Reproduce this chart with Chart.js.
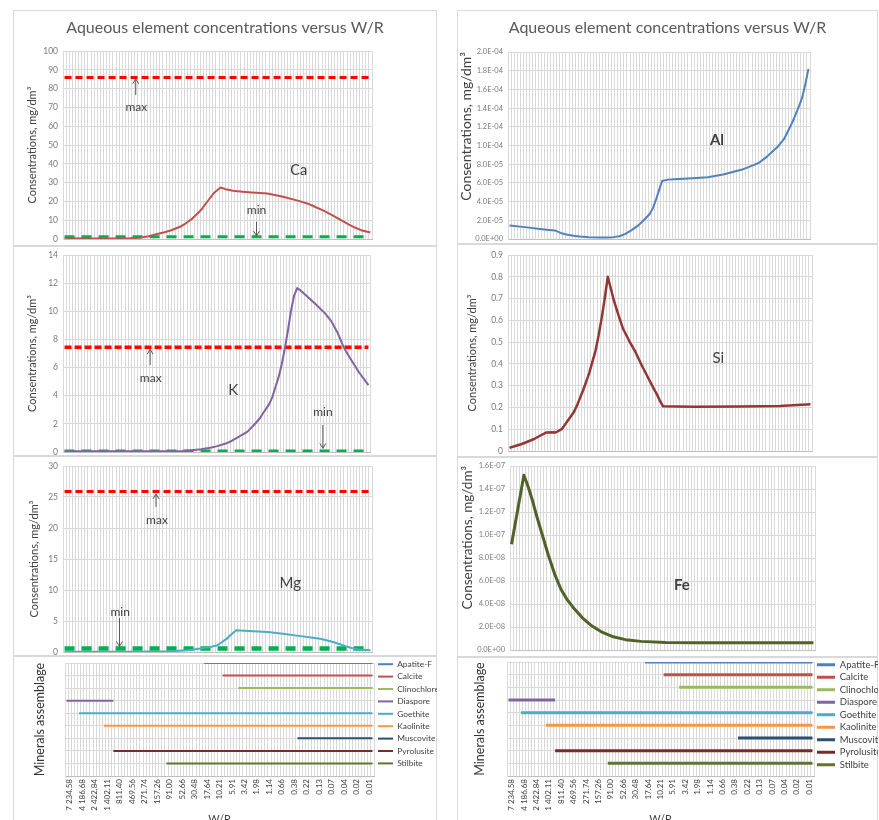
<!DOCTYPE html>
<html>
<head>
<meta charset="utf-8">
<script src="https://cdn.jsdelivr.net/npm/chart.js@4.4.1/dist/chart.umd.min.js"></script>
<style>
  html, body { margin: 0; padding: 0; background: #fff; }
  body { width: 879px; height: 820px; position: relative; overflow: hidden; }
  .panel { position: absolute; outline: 1px solid #d9d9d9; outline-offset: -1px; }
  .panel canvas { position: absolute; left: 0; top: 0; }
</style>
</head>
<body>
<div class="panel" style="left:13px;top:10px;width:424px;height:236px"><canvas id="ca" width="424" height="236"></canvas></div>
<div class="panel" style="left:13px;top:246px;width:424px;height:210px"><canvas id="k" width="424" height="210"></canvas></div>
<div class="panel" style="left:13px;top:456px;width:424px;height:200px"><canvas id="mg" width="424" height="200"></canvas></div>
<div class="panel" style="left:13px;top:656px;width:424px;height:170px"><canvas id="minL" width="424" height="170"></canvas></div>
<div class="panel" style="left:457px;top:10px;width:421px;height:234px"><canvas id="al" width="421" height="234"></canvas></div>
<div class="panel" style="left:457px;top:244px;width:421px;height:213px"><canvas id="si" width="421" height="213"></canvas></div>
<div class="panel" style="left:457px;top:457px;width:421px;height:200px"><canvas id="fe" width="421" height="200"></canvas></div>
<div class="panel" style="left:457px;top:657px;width:421px;height:169px"><canvas id="minR" width="421" height="169"></canvas></div>
<script>
// W/R categories: 99 steps, every 4th one labelled
const N_CAT = 99;
const firstLabelCat = 1;
const labelStep = 4;
const wrLabels = ['7 234.58', '4 186.68', '2 422.84', '1 402.11', '811.40', '469.56', '271.74', '157.26',
  '91.00', '52.66', '30.48', '17.64', '10.21', '5.91', '3.42', '1.98', '1.14', '0.66', '0.38', '0.22',
  '0.13', '0.07', '0.04', '0.02', '0.01'];

// [category index, concentration mg/dm3]
const caSeries = [[0, 0.4], [8, 0.3], [16, 0.3], [21, 0.4], [24, 0.7], [27, 1.5], [30, 2.8], [32, 3.6],
  [34, 4.5], [37, 6.5], [39, 8.5], [41, 11], [43, 14.2], [44, 16], [46, 20.5], [48, 24.8], [50, 27.4],
  [52, 26.3], [54, 25.7], [57, 25.2], [60, 24.8], [65, 24.2], [70, 22.5], [75, 20.3], [78, 18.8], [80, 17.3],
  [83, 15.1], [86, 12.4], [89, 9.6], [91, 7.8], [93, 6.1], [95, 4.7], [98, 3.5]];
const caMax = 86;
const caMin = 1.2;

const kSeries = [[0, 0.05], [20, 0.05], [38, 0.07], [41, 0.12], [44, 0.2], [47, 0.3], [49, 0.4], [52, 0.6],
  [54, 0.8], [56, 1.05], [59, 1.45], [61, 1.9], [63, 2.4], [64, 2.75], [66, 3.4], [67, 3.9], [68, 4.6],
  [69, 5.3], [70, 6.2], [71, 7.3], [72, 8.6], [73, 10], [74, 11.1], [75, 11.65], [76, 11.5], [78, 11.1],
  [81, 10.5], [84, 9.85], [86, 9.3], [88, 8.5], [90, 7.45], [92, 6.7], [95, 5.65], [98, 4.75]];
const kMax = 7.45;
const kMin = 0.07;

const mgSeries = [[0, 0.05], [20, 0.05], [34, 0.12], [38, 0.25], [41, 0.38], [45, 0.7], [47, 0.85], [49, 1.1],
  [50, 1.45], [52, 2.15], [53, 2.65], [55, 3.5], [59, 3.4], [65, 3.23], [70, 2.96], [75, 2.6], [79, 2.35],
  [82, 2.15], [86, 1.6], [88, 1.3], [90, 0.95], [92, 0.65], [94, 0.4], [98, 0.27]];
const mgMax = 25.9;
const mgMin = 0.55;

const alSeries = [[0, 1.45e-5], [5, 1.27e-5], [10, 1.07e-5], [13, 0.97e-5], [15, 0.9e-5], [17, 0.62e-5],
  [19, 0.45e-5], [21, 0.34e-5], [23, 0.27e-5], [26, 0.2e-5], [30, 0.16e-5], [32, 0.15e-5], [34, 0.2e-5],
  [36, 0.3e-5], [38, 0.55e-5], [40, 0.95e-5], [42, 1.4e-5], [44, 2.0e-5], [46, 2.7e-5], [47, 3.3e-5],
  [48, 4.2e-5], [49, 5.2e-5], [50, 6.2e-5], [52, 6.35e-5], [54, 6.4e-5], [60, 6.5e-5], [65, 6.6e-5],
  [70, 6.9e-5], [76, 7.4e-5], [80, 7.9e-5], [82, 8.2e-5], [84, 8.7e-5], [86, 9.3e-5], [88, 9.9e-5],
  [90, 10.7e-5], [92, 12.0e-5], [93, 12.7e-5], [94, 13.5e-5], [95, 14.3e-5], [96, 15.2e-5], [97, 16.6e-5],
  [98, 18.2e-5]];

const siSeries = [[0, 0.015], [4, 0.032], [8, 0.055], [11, 0.078], [12, 0.085], [14, 0.086], [15, 0.085],
  [17, 0.1], [18, 0.12], [19, 0.14], [20, 0.16], [21, 0.18], [22, 0.21], [23, 0.245], [24, 0.28], [25, 0.32],
  [26, 0.36], [27, 0.41], [28, 0.46], [29, 0.53], [30, 0.61], [31, 0.7], [32, 0.8], [33, 0.745], [34, 0.69],
  [35, 0.645], [37, 0.56], [39, 0.505], [41, 0.455], [43, 0.395], [45, 0.34], [47, 0.285], [48, 0.26],
  [49, 0.23], [50, 0.205], [60, 0.203], [75, 0.204], [88, 0.207], [98, 0.215]];

const feSeries = [[0, 9.2e-8], [4, 1.52e-7], [5, 1.45e-7], [6, 1.37e-7], [7, 1.28e-7], [8, 1.18e-7],
  [10, 1.0e-7], [12, 8.2e-8], [14, 6.6e-8], [16, 5.3e-8], [18, 4.4e-8], [20, 3.7e-8], [23, 2.8e-8],
  [26, 2.1e-8], [29, 1.6e-8], [33, 1.15e-8], [37, 9.0e-9], [42, 7.5e-9], [50, 6.6e-9], [60, 6.4e-9],
  [80, 6.4e-9], [98, 6.4e-9]];

// mineral assemblage: first and last W/R category where the mineral is present
const minerals = ['Apatite-F', 'Calcite', 'Clinochlore', 'Diaspore', 'Goethite', 'Kaolinite', 'Muscovite', 'Pyrolusite', 'Stilbite'];
const mineralFrom = [44, 50, 55, 0, 4, 12, 74, 15, 32];
const mineralTo = [98, 98, 98, 15, 98, 98, 98, 98, 98];

const mineralColors = ['#4f81bd', '#c0504d', '#9bbb59', '#8064a2', '#4bacc6', '#f79646', '#2c4d75', '#772c2a', '#5f7530'];
const GRID = '#d9d9d9';
const TITLE = 'Aqueous element concentrations versus W/R';
const Y_TITLE = 'Consentrations, mg/dm³';

Chart.defaults.font.family = 'Lato, "Open Sans", sans-serif';
Chart.defaults.animation = false;

function pts(series) {
  return series.map(([x, y]) => ({ x: x, y: y }));
}
function flat(v) {
  return [{ x: 0, y: v }, { x: N_CAT - 1, y: v }];
}
function sci(v) {
  if (Math.abs(v) < 1e-30) return '0.0E+00';
  let e = Math.floor(Math.log10(Math.abs(v)) + 1e-9);
  let m = v / Math.pow(10, e);
  if (Math.round(m * 10) / 10 >= 10) { m /= 10; e++; }
  return m.toFixed(1) + 'E' + (e < 0 ? '-' : '+') + String(Math.abs(e)).padStart(2, '0');
}

// fixed axis box sizes so the plot areas line up with the picture
function fixY(w, padTop) {
  return function (scale) {
    scale.width = w;
    scale.paddingTop = padTop || 0;
    scale.paddingBottom = 0;
  };
}
function fixX(h) {
  return function (scale) {
    if (h !== undefined) scale.height = h;
    scale.paddingLeft = 0;
    scale.paddingRight = 0;
  };
}

function xPlain() {
  return {
    type: 'linear', min: -0.5, max: N_CAT - 0.5,
    grid: { color: GRID, drawTicks: false },
    border: { color: '#bfbfbf' },
    ticks: { display: false, stepSize: 1, autoSkip: false },
    afterFit: fixX(0)
  };
}
function xLabelled(font) {
  return {
    type: 'linear', min: -0.5, max: N_CAT - 0.5,
    grid: { color: GRID, drawTicks: false },
    border: { color: '#bfbfbf' },
    ticks: {
      stepSize: 1, autoSkip: false, minRotation: 90, maxRotation: 90, padding: 3, labelOffset: 1.5,
      color: '#404040', font: { size: font },
      callback: (v, i) => {
        const k = i - firstLabelCat;
        return (k >= 0 && k % labelStep === 0 && k / labelStep < wrLabels.length) ? wrLabels[k / labelStep] : '';
      }
    },
    title: { display: true, text: 'W/R', color: '#404040', font: { size: 11 }, padding: 0 },
    afterFit: fixX(50)
  };
}
// box = {left, axis, right}: blank margin left of the axis title, axis width, blank margin right of the plot
function yConc(max, step, box, fmt, tickSize, titleSize, align) {
  return {
    min: 0, max: max,
    grid: { color: GRID, drawTicks: false },
    border: { color: GRID },
    ticks: { stepSize: step, padding: 5, color: '#7a7a7a', font: { size: tickSize }, callback: fmt },
    title: {
      display: true, text: Y_TITLE, color: '#404040', font: { size: titleSize },
      padding: { top: box.left, bottom: 0 }, align: align || 'center'
    },
    afterFit: fixY(box.left + box.axis)
  };
}
function yGap(w) {
  return {
    position: 'right', display: true,
    grid: { display: false }, border: { display: false }, ticks: { display: false },
    afterFit: fixY(w)
  };
}

function notesPlugin(items) {
  return {
    id: 'notes',
    afterDatasetsDraw(chart) {
      const { ctx } = chart;
      const x = chart.scales.x, y = chart.scales.y;
      ctx.save();
      items.forEach(n => {
        const px = x.getPixelForValue(n.x);
        if (n.text) {
          ctx.font = (n.bold ? 'bold ' : '') + (n.size || 12) + 'px Lato, "Open Sans", sans-serif';
          ctx.fillStyle = '#404040';
          ctx.textAlign = 'center';
          ctx.textBaseline = 'middle';
          ctx.fillText(n.text, px, y.getPixelForValue(n.y));
        } else {
          const y0 = y.getPixelForValue(n.from), y1 = y.getPixelForValue(n.to);
          const dir = y1 < y0 ? 1 : -1;
          ctx.strokeStyle = '#595959';
          ctx.lineWidth = 1;
          ctx.beginPath();
          ctx.moveTo(px, y0);
          ctx.lineTo(px, y1);
          ctx.moveTo(px - 3, y1 + dir * 5);
          ctx.lineTo(px, y1);
          ctx.lineTo(px + 3, y1 + dir * 5);
          ctx.stroke();
        }
      });
      ctx.restore();
    }
  };
}

function element(series, color, width) {
  return { data: pts(series), borderColor: color, borderWidth: width, pointRadius: 0, tension: 0, borderJoinStyle: 'round' };
}
function limit(v, color, width, dash) {
  return { data: flat(v), borderColor: color, borderWidth: width, borderDash: dash, pointRadius: 0 };
}

function lineChart(id, datasets, y, box, vpad, notes, withTitle) {
  return new Chart(document.getElementById(id), {
    type: 'line',
    data: { datasets: datasets },
    options: {
      responsive: false, devicePixelRatio: 1,
      layout: { padding: { left: 0, right: 0, top: vpad.top, bottom: vpad.bottom } },
      scales: { x: xPlain(), y: y, gap: yGap(box.right) },
      plugins: {
        legend: { display: false },
        tooltip: { enabled: false },
        title: withTitle
          ? { display: true, text: TITLE, color: '#595959', font: { size: 16, weight: 'normal' }, padding: withTitle }
          : { display: false }
      }
    },
    plugins: [notesPlugin(notes)]
  });
}

function mineralChart(id, lineW, padding, yW, padTop, legend) {
  const datasets = minerals.map((m, i) => ({
    label: m,
    data: [{ x: mineralFrom[i], y: minerals.length - i }, { x: mineralTo[i], y: minerals.length - i }],
    borderColor: mineralColors[i], backgroundColor: mineralColors[i],
    pointBorderColor: mineralColors[i], pointBorderWidth: lineW,
    borderWidth: lineW, pointRadius: 0
  }));
  return new Chart(document.getElementById(id), {
    type: 'line',
    data: { datasets: datasets },
    options: {
      responsive: false, devicePixelRatio: 1,
      layout: { padding: padding },
      scales: {
        x: xLabelled(8),
        y: {
          min: 0, max: minerals.length,
          grid: { color: GRID, drawTicks: false },
          border: { color: GRID },
          ticks: { display: false, stepSize: 1 },
          title: { display: true, text: 'Minerals assemblage', color: '#333', font: { size: 12.5 }, padding: 0 },
          afterFit: fixY(yW, padTop)
        }
      },
      plugins: {
        tooltip: { enabled: false },
        legend: {
          position: 'right', align: 'start', maxWidth: legend.width,
          labels: {
            usePointStyle: true, pointStyle: 'line', pointStyleWidth: legend.box, boxWidth: legend.box,
            padding: legend.pad, color: '#404040', font: { size: legend.font }
          }
        }
      }
    }
  });
}

const fmtPlain = v => String(Number(v.toFixed(1)));
const fmtSci = v => sci(v);

// left column
lineChart('ca', [
  element(caSeries, '#c0504d', 2),
  limit(caMax, '#ff0000', 3, [7, 4]),
  limit(caMin, '#00b050', 3, [10, 7])
], yConc(100, 10, { left: 13, axis: 37, right: 65 }, fmtPlain, 8.5, 11), { left: 13, axis: 37, right: 65 },
  { top: 0, bottom: 7 }, [
  { text: 'max', x: 23, y: 70.4 },
  { x: 22.8, from: 76.6, to: 85.3 },
  { text: 'min', x: 61.5, y: 15.4 },
  { x: 61.5, from: 9.2, to: 1.6 },
  { text: 'Ca', x: 75, y: 36.7, size: 14.5 }
], { top: 8, bottom: 14 });

lineChart('k', [
  element(kSeries, '#8064a2', 2),
  limit(kMax, '#ff0000', 3.5, [7, 3]),
  limit(kMin, '#00b050', 3, [10, 7])
], yConc(14, 2, { left: 13, axis: 37 }, fmtPlain, 8.5, 11), { right: 67 }, { top: 9, bottom: 4 }, [
  { text: 'max', x: 27.8, y: 5.24 },
  { x: 27.6, from: 6.18, to: 7.3 },
  { text: 'K', x: 54.4, y: 4.41, size: 15 },
  { text: 'min', x: 83.3, y: 2.86 },
  { x: 83.3, from: 1.92, to: 0.26 }
]);

lineChart('mg', [
  element(mgSeries, '#4bacc6', 2),
  limit(mgMax, '#ff0000', 3, [7, 4]),
  limit(mgMin, '#00b050', 4.5, [10, 7])
], yConc(30, 5, { left: 15, axis: 35 }, fmtPlain, 8.5, 11), { right: 65 }, { top: 10, bottom: 4 }, [
  { text: 'max', x: 29.6, y: 21.3 },
  { x: 29.3, from: 23.4, to: 25.5 },
  { text: 'Mg', x: 72.3, y: 11.1, size: 15 },
  { text: 'min', x: 17.8, y: 6.45 },
  { x: 17.6, from: 5.5, to: 0.9 }
]);

mineralChart('minL', 2, { left: 19, right: 0, top: 0, bottom: 0 }, 33, 7,
  { width: 63, box: 15, pad: 4, font: 8.4 });

// right column
lineChart('al', [element(alSeries, '#4f81bd', 2)],
  yConc(2e-4, 2e-5, { left: 1, axis: 50 }, fmtSci, 7.5, 14, 'end'), { right: 68 }, { top: 0, bottom: 5 },
  [{ text: 'Al', x: 68, y: 1.06e-4, size: 15, bold: true }], { top: 8, bottom: 14.8 });

lineChart('si', [element(siSeries, '#943634', 2.5)],
  yConc(0.9, 0.1, { left: 9, axis: 42 }, fmtPlain, 8.5, 11), { right: 66 }, { top: 11, bottom: 6 },
  [{ text: 'Si', x: 68, y: 0.427, size: 15 }]);

lineChart('fe', [element(feSeries, '#4f6228', 3)],
  yConc(1.6e-7, 2e-8, { left: 3, axis: 50 }, fmtSci, 7.5, 13.5, 'end'), { right: 63 }, { top: 9, bottom: 7 },
  [{ text: 'Fe', x: 55.3, y: 5.65e-8, size: 15, bold: true }]);

mineralChart('minR', 3, { left: 15, right: 0, top: 0, bottom: 0 }, 35, 5,
  { width: 64, box: 18, pad: 3, font: 9.5 });
</script>
</body>
</html>
